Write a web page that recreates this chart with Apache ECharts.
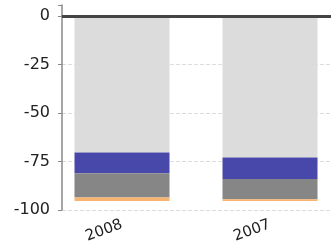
<!DOCTYPE html>
<html>
<head>
<meta charset="utf-8">
<script src="https://cdn.jsdelivr.net/npm/echarts@6/dist/echarts.min.js"></script>
<style>
  html, body { margin: 0; padding: 0; background: #fff; overflow: hidden; }
  #chart { width: 358px; height: 250px; }
</style>
</head>
<body>
<div id="chart"></div>
<script>
const years = ['2008', '2007']
const base = [-70.4, -72.9]
const blue = [-10.7, -11.1]
const grey = [-12.4, -10.5]
const orange = [-1.9, -0.9]
const yTicks = [0, -25, -50, -75, -100]

const chart = echarts.init(document.getElementById('chart'))

const bar = (name, data, color) => ({
  name,
  type: 'bar',
  stack: 'total',
  xAxisIndex: 1,
  yAxisIndex: 1,
  barWidth: 95,
  data,
  itemStyle: { color },
  silent: true
})

const yRange = { type: 'value', min: -100, max: 5.6, interval: 25 }

chart.setOption({
  animation: false,
  grid: [
    { left: 62, right: 0, top: 5, bottom: 40 },
    { left: 48, right: 14, top: 5, bottom: 40 }
  ],
  xAxis: [
    {
      type: 'category',
      gridIndex: 0,
      data: years,
      axisLine: { lineStyle: { color: '#888', width: 1.5 } },
      axisTick: { show: false },
      axisLabel: { show: false }
    },
    {
      type: 'category',
      gridIndex: 1,
      data: years,
      axisLine: { show: false },
      axisTick: { show: false },
      axisLabel: {
        rotate: 20,
        margin: 14,
        color: '#222',
        fontSize: 15,
        fontFamily: 'DejaVu Sans'
      }
    }
  ],
  yAxis: [
    {
      ...yRange,
      gridIndex: 0,
      axisLine: { show: true, lineStyle: { color: '#888', width: 1.5 } },
      axisTick: { show: true, length: 4, lineStyle: { color: '#888' } },
      axisLabel: {
        margin: 12,
        color: '#222',
        fontSize: 16,
        fontFamily: 'DejaVu Sans',
        formatter: v => (yTicks.includes(v) ? String(v) : '')
      },
      splitLine: {
        show: true,
        showMaxLine: false,
        lineStyle: { color: '#ddd', type: 'dashed' }
      }
    },
    {
      ...yRange,
      gridIndex: 1,
      show: false,
      splitLine: { show: false }
    }
  ],
  series: [
    bar('base', base, '#dcdcdc'),
    bar('blue', blue, '#4848aa'),
    bar('grey', grey, '#868686'),
    bar('orange', orange, '#f7b370'),
    {
      type: 'line',
      xAxisIndex: 0,
      yAxisIndex: 0,
      data: [],
      silent: true,
      markLine: {
        silent: true,
        symbol: 'none',
        label: { show: false },
        lineStyle: { color: '#444', width: 3, type: 'solid' },
        data: [{ yAxis: 0 }]
      }
    }
  ]
})
</script>
</body>
</html>
